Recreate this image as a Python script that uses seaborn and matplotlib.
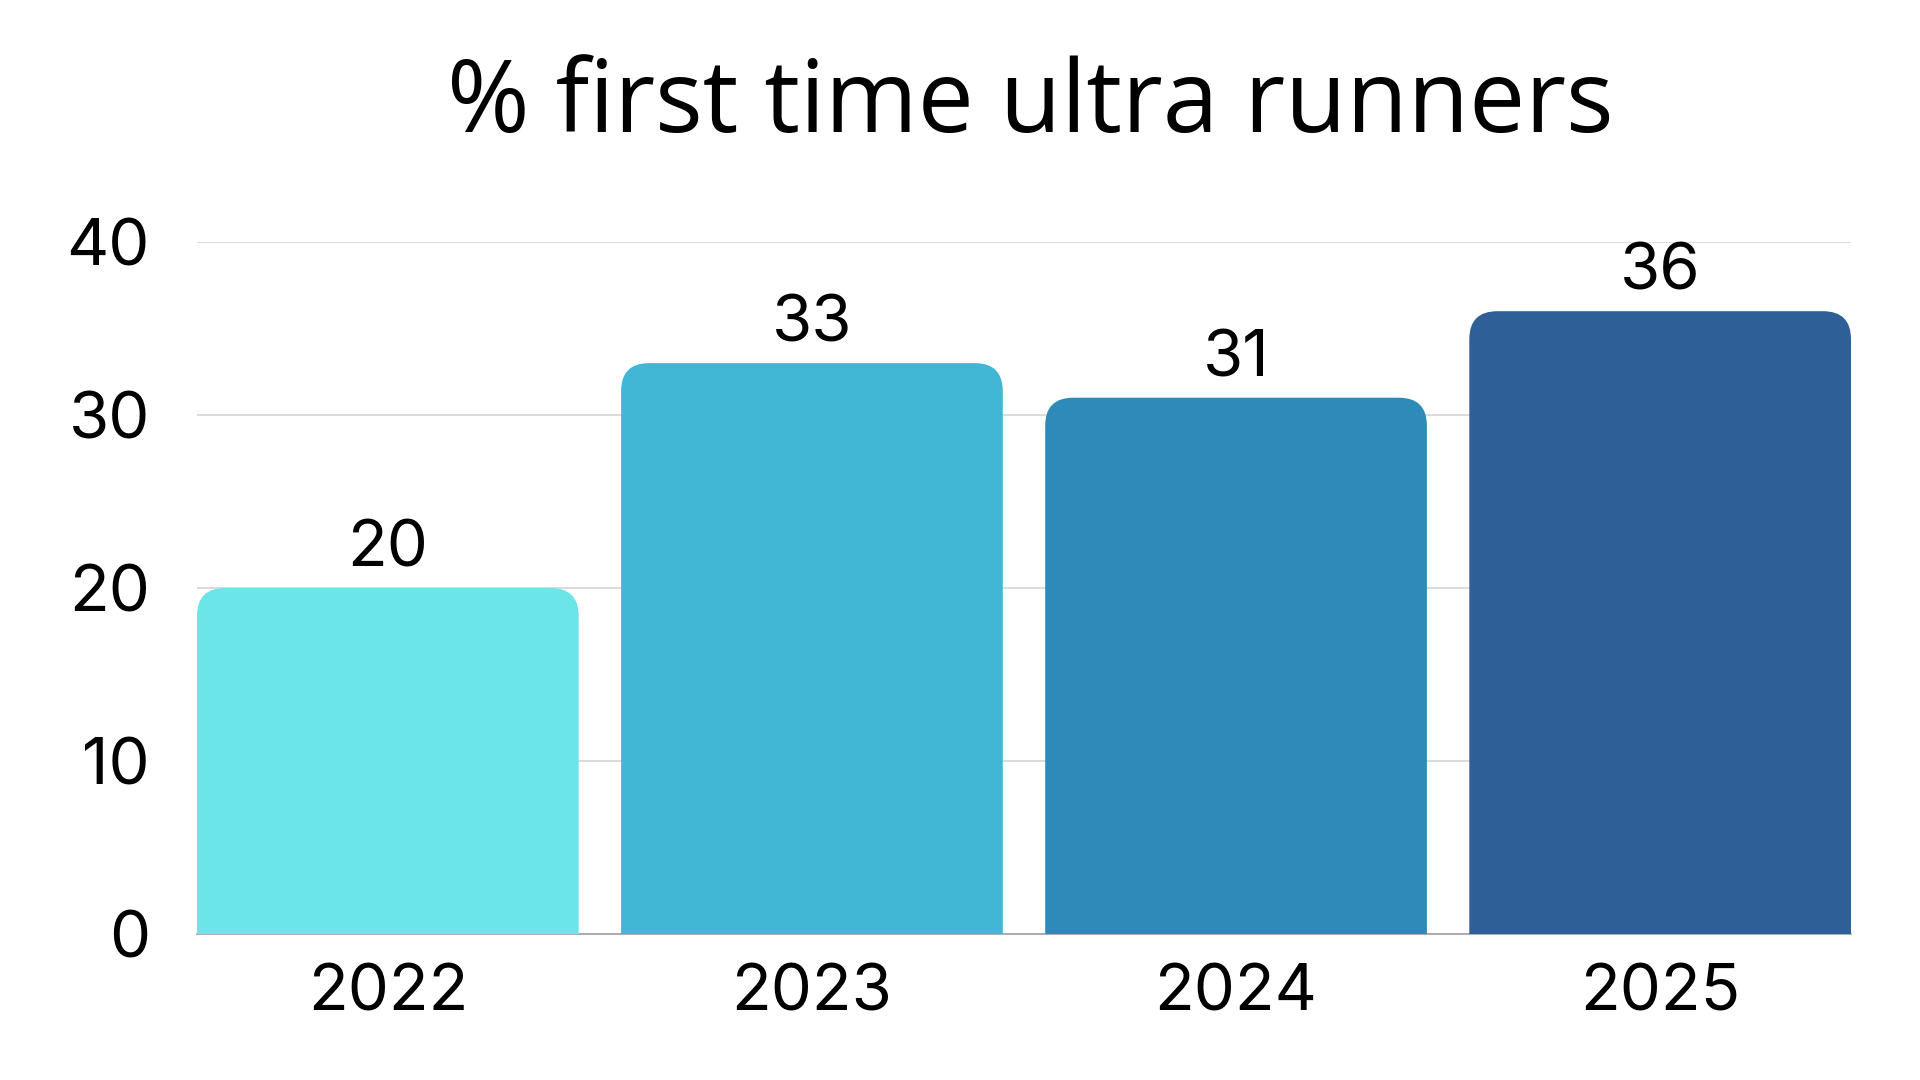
import matplotlib
matplotlib.use("Agg")
import matplotlib.pyplot as plt
from matplotlib.patches import FancyBboxPatch
import seaborn as sns
import pandas as pd

years = ["2022", "2023", "2024", "2025"]
values = [20, 33, 31, 36]
colors = ["#6CE5E8", "#42B7D5", "#2E8BB9", "#2E5F97"]
yticks = [0, 10, 20, 30, 40]
title = "% first time ultra runners"

sns.set_theme(style="white")
plt.rcParams["font.family"] = ["Inter", "DejaVu Sans"]

df = pd.DataFrame({"year": years, "value": values})

fig = plt.figure(figsize=(19.2, 10.8), dpi=100)
ax = fig.add_axes([197 / 1920, 146 / 1080, (1851 - 197) / 1920, (934 - 242) / 1080])

sns.barplot(data=df, x="year", y="value", hue="year", palette=colors,
            saturation=1, width=0.9, legend=False, ax=ax, zorder=3)

# replace rectangles with top-rounded bars
px_per_x = (1851 - 197) / 3.9
px_per_y = (934 - 242) / 40
r_px = 28
rx = r_px / px_per_x
ry = r_px / px_per_y
for p in list(ax.patches):
    x0, w, h = p.get_x(), p.get_width(), p.get_height()
    fc = p.get_facecolor()
    p.remove()
    fb = FancyBboxPatch((x0, -3), w, h + 3,
                        boxstyle=f"round,pad=0,rounding_size={rx}",
                        mutation_aspect=ry / rx, facecolor=fc, edgecolor="none",
                        zorder=3, clip_on=True)
    ax.add_patch(fb)

for i, v in enumerate(values):
    ax.annotate(str(v), (i, v), xytext=(0, 6), textcoords="offset points",
                ha="center", va="bottom", fontsize=47, color="black")

ax.set_xlim(-0.45, 3.45)
ax.set_ylim(0, 40)
ax.set_yticks(yticks)
ax.set_yticklabels([str(t) for t in yticks])
ax.set_xlabel("")
ax.set_ylabel("")
ax.yaxis.grid(True, color="#dcdcdc", linewidth=1.4, zorder=0)
ax.xaxis.grid(False)
ax.set_axisbelow(True)
for s in ["top", "right", "left"]:
    ax.spines[s].set_visible(False)
ax.spines["bottom"].set_color("#a0a0a0")
ax.spines["bottom"].set_linewidth(1.2)
ax.spines["bottom"].set_zorder(2)
ax.tick_params(axis="y", length=0, pad=34, labelsize=47, labelcolor="black")
ax.tick_params(axis="x", length=0, pad=21, labelsize=47, labelcolor="black")

fig.text(1030 / 1920, 1 - 132 / 1080, title, ha="center", va="baseline",
         fontsize=72, family=["Open Sans", "DejaVu Sans"], color="black")

fig.savefig("out.png", dpi=100, facecolor="white")
